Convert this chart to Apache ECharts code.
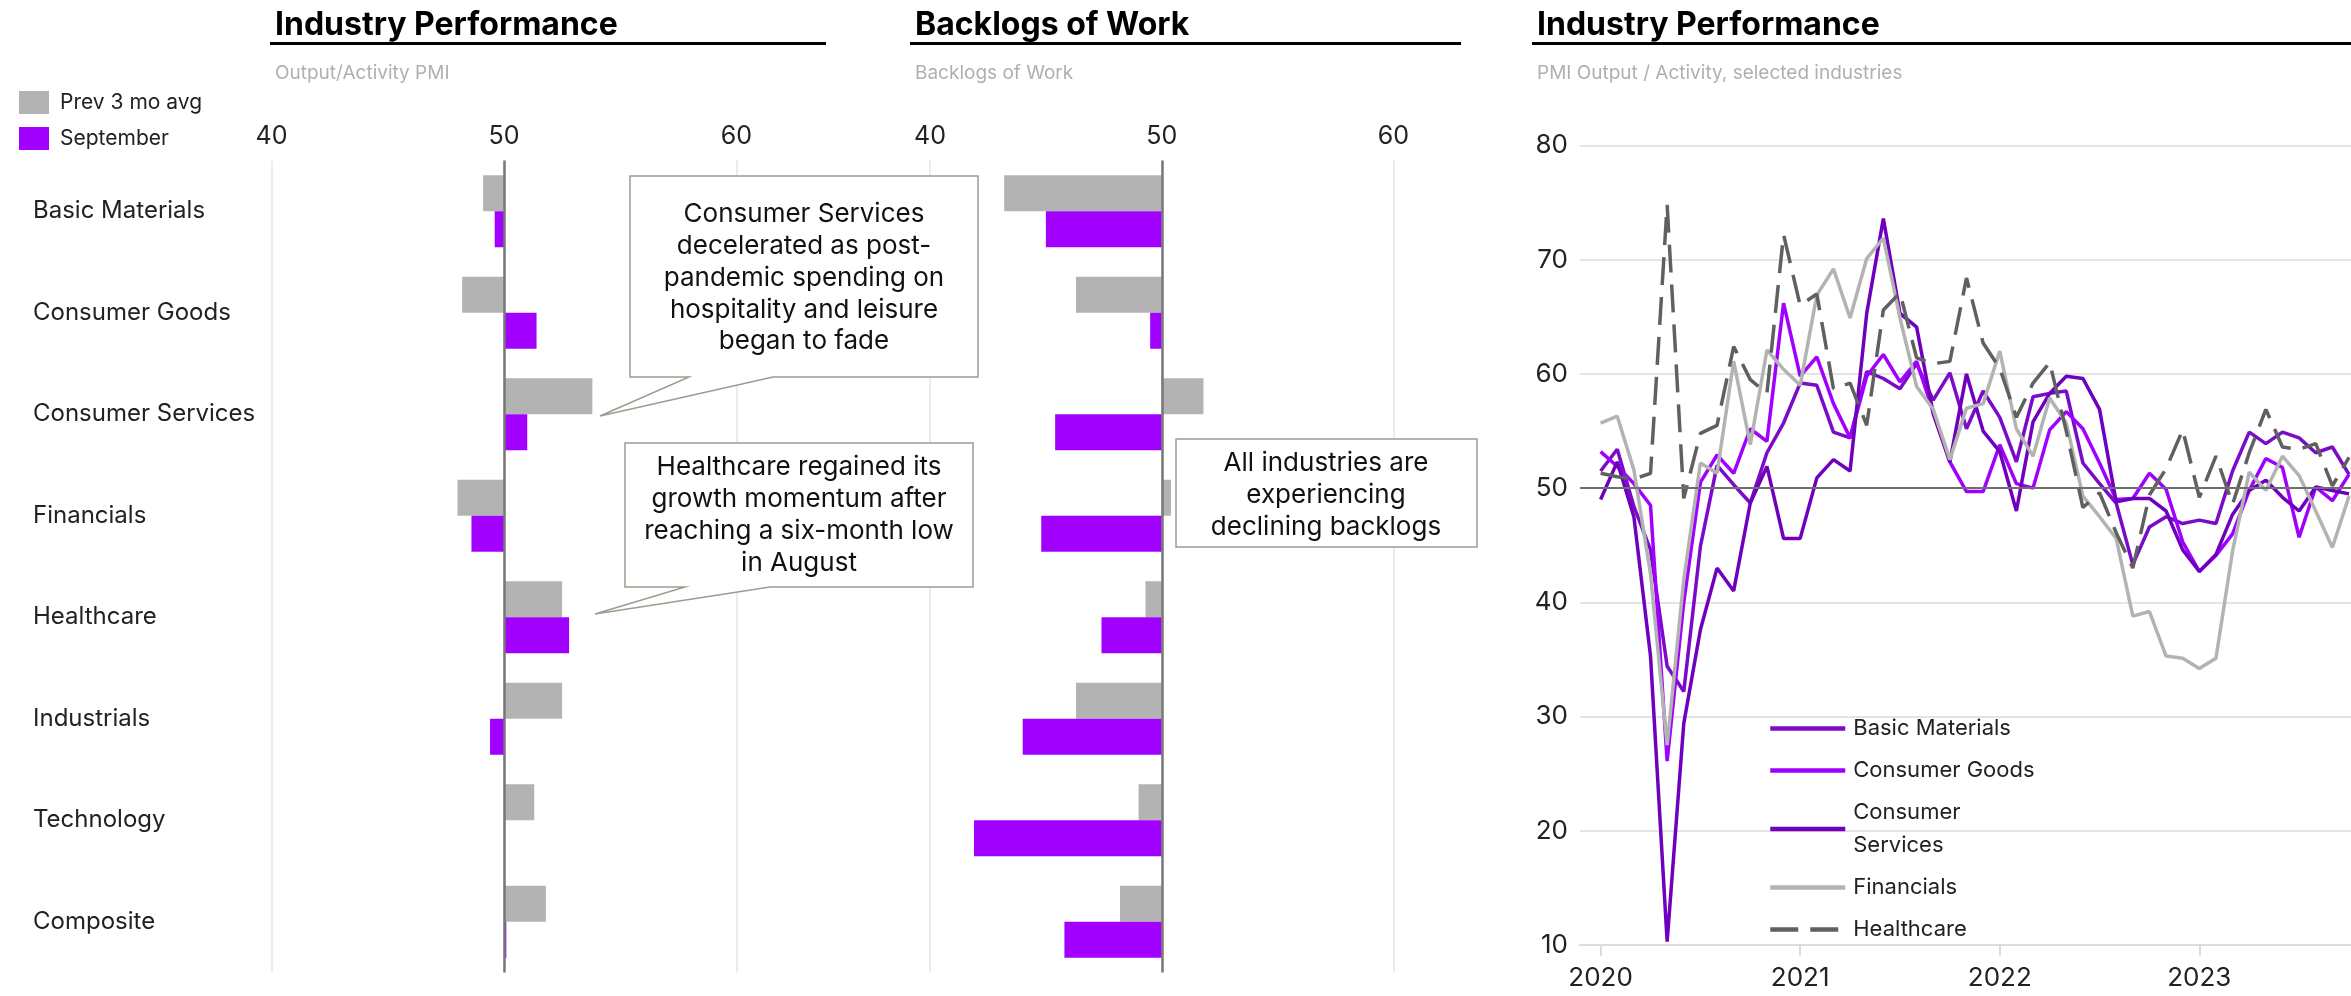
<!DOCTYPE html>
<html>
<head>
<meta charset="utf-8">
<script src="https://cdn.jsdelivr.net/npm/echarts@6/dist/echarts.min.js"></script>
<style>
  html, body { margin: 0; padding: 0; background: #fff; }
  #chart { width: 2351px; height: 996px; }
</style>
</head>
<body>
<div id="chart"></div>
<script>
// industries shown in the two bar panels (top to bottom)
var industries = ['Basic Materials', 'Consumer Goods', 'Consumer Services', 'Financials',
                  'Healthcare', 'Industrials', 'Technology', 'Composite'];

// Output / Activity PMI
var outputPrev = [49.1, 48.2, 53.8, 48.0, 52.5, 52.5, 51.3, 51.8];
var outputSep  = [49.6, 51.4, 51.0, 48.6, 52.8, 49.4, 50.0, 50.1];

// Backlogs of work
var backlogPrev = [43.2, 46.3, 51.8, 50.4, 49.3, 46.3, 49.0, 48.2];
var backlogSep  = [45.0, 49.5, 45.4, 44.8, 47.4, 44.0, 41.9, 45.8];

// monthly series for the line chart
var months = ['2020-01','2020-02','2020-03','2020-04','2020-05','2020-06','2020-07','2020-08','2020-09','2020-10','2020-11','2020-12',
              '2021-01','2021-02','2021-03','2021-04','2021-05','2021-06','2021-07','2021-08','2021-09','2021-10','2021-11','2021-12',
              '2022-01','2022-02','2022-03','2022-04','2022-05','2022-06','2022-07','2022-08','2022-09','2022-10','2022-11','2022-12',
              '2023-01','2023-02','2023-03','2023-04','2023-05','2023-06','2023-07','2023-08','2023-09','2023-10'];
var yearTicks = [0, 12, 24, 36];

var basicMaterials = [51.5, 53.4, 48.4, 44.6, 34.4, 32.2, 44.9, 52.0, 50.3, 48.7, 53.1, 55.7,
                      59.2, 59.0, 54.9, 54.4, 60.2, 59.6, 58.7, 60.9, 57.7, 60.1, 55.2, 58.5,
                      56.2, 52.3, 58.0, 58.3, 58.5, 52.2, 50.4, 48.7, 43.3, 46.6, 47.5, 46.9,
                      47.2, 46.9, 51.5, 54.9, 53.9, 54.9, 54.4, 53.1, 53.6, 51.2];
var consumerGoods = [53.2, 51.9, 50.4, 48.5, 26.1, 40.0, 50.5, 52.9, 51.3, 55.2, 54.1, 66.2,
                     59.8, 61.5, 57.4, 54.4, 59.8, 61.7, 59.3, 61.1, 56.7, 52.3, 49.7, 49.7,
                     53.8, 50.4, 50.0, 55.1, 56.7, 55.2, 52.2, 49.0, 49.1, 51.3, 49.9, 45.3,
                     42.7, 44.1, 46.0, 49.8, 52.6, 51.8, 45.7, 50.1, 48.9, 51.2];
var consumerServices = [49.0, 52.3, 47.5, 35.3, 10.3, 29.4, 37.6, 43.0, 41.0, 48.7, 51.9, 45.6,
                        45.6, 50.9, 52.5, 51.5, 65.3, 73.6, 65.3, 64.1, 56.5, 52.3, 60.0, 55.0,
                        53.2, 48.0, 55.8, 58.3, 59.8, 59.6, 56.9, 48.8, 49.1, 49.1, 48.0, 44.6,
                        42.7, 44.2, 47.7, 49.8, 50.7, 49.2, 48.0, 50.1, 49.8, 49.5];
var financials = [55.7, 56.3, 51.6, 42.5, 27.5, 42.0, 52.2, 51.3, 61.1, 53.8, 62.1, 60.4,
                  59.0, 66.9, 69.2, 64.9, 70.1, 71.9, 64.9, 58.9, 56.9, 52.5, 57.0, 57.4,
                  62.0, 55.2, 52.8, 57.9, 55.7, 49.3, 47.5, 45.6, 38.8, 39.2, 35.3, 35.1,
                  34.2, 35.1, 44.5, 51.4, 49.8, 52.8, 51.1, 48.0, 44.8, 49.3];
var healthcare = [51.3, 51.0, 50.8, 51.3, 74.8, 49.1, 54.8, 55.5, 62.4, 59.5, 58.3, 72.2,
                  66.0, 67.0, 58.7, 59.2, 55.5, 65.6, 67.1, 61.4, 60.9, 61.1, 68.4, 62.7,
                  60.5, 56.2, 59.2, 61.0, 55.0, 48.3, 49.6, 46.1, 43.0, 49.4, 51.7, 55.1,
                  49.2, 52.8, 48.6, 53.1, 56.9, 53.6, 53.4, 53.9, 50.2, 52.7];

var GRAY = '#b3b3b3';
var PURPLE = '#a100ff';
var FONT = 'Inter';

// bars grow from the 50 line, so they are drawn as the distance from 50
function fromFifty(arr) {
    return arr.map(function (v) { return +(v - 50).toFixed(2); });
}
function indexed(arr) {
    return arr.map(function (v, i) { return [i, v]; });
}

var baseLine = {
    silent: true,
    symbol: 'none',
    label: { show: false },
    lineStyle: { color: '#777', width: 2.5, type: 'solid' },
    data: [{ xAxis: 0 }]
};

function barXAxis(gridIndex) {
    return {
        type: 'value', gridIndex: gridIndex, position: 'top',
        min: -10, max: 10, interval: 10,
        axisLine: { show: false }, axisTick: { show: false },
        axisLabel: { fontSize: 25, color: '#222', margin: 12, fontFamily: FONT,
                     formatter: function (v) { return v + 50; } },
        splitLine: { lineStyle: { color: '#e6e6e6', width: 1.5 } }
    };
}

function lineSeries(name, data, color, dashed) {
    return {
        name: name, type: 'line', xAxisIndex: 2, yAxisIndex: 2,
        data: indexed(data), symbol: 'none', showSymbol: false,
        lineStyle: { color: color, width: 3.5, type: dashed ? [28, 12] : 'solid' },
        itemStyle: { color: color }
    };
}

var chart = echarts.init(document.getElementById('chart'));

var option = {
    animation: false,
    backgroundColor: '#fff',
    textStyle: { fontFamily: FONT },
    title: [
        { text: 'Industry Performance', left: 270, top: 4, textStyle: { fontSize: 32, fontWeight: 'bold', color: '#000', fontFamily: FONT } },
        { text: 'Output/Activity PMI', left: 270, top: 59, textStyle: { fontSize: 19, fontWeight: 'normal', color: '#b0b0b0', fontFamily: FONT } },
        { text: 'Backlogs of Work', left: 910, top: 4, textStyle: { fontSize: 32, fontWeight: 'bold', color: '#000', fontFamily: FONT } },
        { text: 'Backlogs of Work', left: 910, top: 59, textStyle: { fontSize: 19, fontWeight: 'normal', color: '#b0b0b0', fontFamily: FONT } },
        { text: 'Industry Performance', left: 1532, top: 4, textStyle: { fontSize: 32, fontWeight: 'bold', color: '#000', fontFamily: FONT } },
        { text: 'PMI Output / Activity, selected industries', left: 1532, top: 59, textStyle: { fontSize: 19, fontWeight: 'normal', color: '#b0b0b0', fontFamily: FONT } }
    ],
    legend: [
        {
            data: ['Prev 3 mo avg', 'September'],
            orient: 'vertical', left: 19, top: 91, padding: 0,
            icon: 'rect', itemWidth: 30, itemHeight: 23, itemGap: 13,
            selectedMode: false,
            textStyle: { fontSize: 21, color: '#222', padding: [0, 0, 0, 6], fontFamily: FONT }
        },
        {
            data: ['Basic Materials', 'Consumer Goods', 'Consumer Services', 'Financials', 'Healthcare'],
            orient: 'vertical', left: 1768, top: 712, padding: 0,
            itemWidth: 75, itemHeight: 4, itemGap: 9,
            selectedMode: false,
            itemStyle: { opacity: 0, borderWidth: 0 },
            lineStyle: { width: 4.5 },
            formatter: function (name) { return name === 'Consumer Services' ? 'Consumer\nServices' : name; },
            textStyle: { fontSize: 22, lineHeight: 33, color: '#222', padding: [0, 0, 0, 3], fontFamily: FONT }
        }
    ],
    grid: [
        { left: 271.5, top: 160.5, width: 465, height: 812 },
        { left: 930, top: 160.5, width: 463.5, height: 812 },
        { left: 1580, top: 145.5, right: 0, height: 799.5 }
    ],
    xAxis: [
        barXAxis(0),
        barXAxis(1),
        {
            type: 'value', gridIndex: 2,
            min: -1.24, max: 45.12,
            axisLine: { show: true, lineStyle: { color: '#dcdcdc', width: 2 } },
            axisTick: { show: true, customValues: yearTicks, length: 11, lineStyle: { color: '#dcdcdc', width: 2 } },
            axisLabel: { customValues: yearTicks, fontSize: 26, color: '#222', margin: 20, fontFamily: FONT,
                         formatter: function (v) { return months[v].slice(0, 4); } },
            splitLine: { show: false }
        }
    ],
    yAxis: [
        {
            type: 'category', gridIndex: 0, data: industries, inverse: true,
            axisLine: { show: false }, axisTick: { show: false },
            axisLabel: { align: 'left', margin: 238.5, fontSize: 24, color: '#222', fontFamily: FONT,
                         padding: [12, 0, 0, 0] }
        },
        {
            type: 'category', gridIndex: 1, data: industries, inverse: true,
            axisLine: { show: false }, axisTick: { show: false }, axisLabel: { show: false }
        },
        {
            type: 'value', gridIndex: 2, min: 10, max: 80, interval: 10,
            axisLine: { show: false }, axisTick: { show: false },
            axisLabel: { fontSize: 26, color: '#222', margin: 12, fontFamily: FONT },
            splitLine: { lineStyle: { color: '#e4e4e4', width: 2 } }
        }
    ],
    series: [
        { name: 'Prev 3 mo avg', type: 'bar', xAxisIndex: 0, yAxisIndex: 0, data: fromFifty(outputPrev),
          barWidth: 36, barGap: '0%', itemStyle: { color: GRAY }, markLine: baseLine },
        { name: 'September', type: 'bar', xAxisIndex: 0, yAxisIndex: 0, data: fromFifty(outputSep),
          barWidth: 36, barGap: '0%', itemStyle: { color: PURPLE } },
        { name: 'Prev 3 mo avg', type: 'bar', xAxisIndex: 1, yAxisIndex: 1, data: fromFifty(backlogPrev),
          barWidth: 36, barGap: '0%', itemStyle: { color: GRAY }, markLine: baseLine },
        { name: 'September', type: 'bar', xAxisIndex: 1, yAxisIndex: 1, data: fromFifty(backlogSep),
          barWidth: 36, barGap: '0%', itemStyle: { color: PURPLE } },

        Object.assign(lineSeries('Basic Materials', basicMaterials, '#7a0bc8', false), {
            markLine: { silent: true, symbol: 'none', label: { show: false },
                        lineStyle: { color: '#6e6e6e', width: 2, type: 'solid' }, data: [{ yAxis: 50 }] }
        }),
        lineSeries('Consumer Goods', consumerGoods, PURPLE, false),
        lineSeries('Consumer Services', consumerServices, '#6e00be', false),
        lineSeries('Financials', financials, GRAY, false),
        lineSeries('Healthcare', healthcare, '#606060', true)
    ],
    graphic: [
        // title rules
        { type: 'line', z: 50, shape: { x1: 270, y1: 43.5, x2: 826, y2: 43.5 }, style: { stroke: '#000', lineWidth: 3 } },
        { type: 'line', z: 50, shape: { x1: 910, y1: 43.5, x2: 1461, y2: 43.5 }, style: { stroke: '#000', lineWidth: 3 } },
        { type: 'line', z: 50, shape: { x1: 1532, y1: 43.5, x2: 2351, y2: 43.5 }, style: { stroke: '#000', lineWidth: 3 } },

        // callouts
        { type: 'polygon', z: 100,
          shape: { points: [[630, 176], [978, 176], [978, 377], [773, 377], [600, 416], [689, 377], [630, 377]] },
          style: { fill: '#fff', stroke: '#9c9c90', lineWidth: 1.5 } },
        { type: 'text', z: 101,
          style: { x: 804, y: 278, text: 'Consumer Services\ndecelerated as post-\npandemic spending on\nhospitality and leisure\nbegan to fade',
                   fill: '#111', fontSize: 26, fontFamily: FONT, align: 'center', verticalAlign: 'middle', lineHeight: 31.7 } },

        { type: 'polygon', z: 100,
          shape: { points: [[625, 443], [973, 443], [973, 587], [770, 587], [595, 614], [685, 587], [625, 587]] },
          style: { fill: '#fff', stroke: '#9c9c90', lineWidth: 1.5 } },
        { type: 'text', z: 101,
          style: { x: 799, y: 515, text: 'Healthcare regained its\ngrowth momentum after\nreaching a six-month low\nin August',
                   fill: '#111', fontSize: 26, fontFamily: FONT, align: 'center', verticalAlign: 'middle', lineHeight: 32 } },

        { type: 'rect', z: 100,
          shape: { x: 1176, y: 439, width: 301, height: 108 },
          style: { fill: '#fff', stroke: '#9c9c90', lineWidth: 1.5 } },
        { type: 'text', z: 101,
          style: { x: 1326, y: 495, text: 'All industries are\nexperiencing\ndeclining backlogs',
                   fill: '#111', fontSize: 26, fontFamily: FONT, align: 'center', verticalAlign: 'middle', lineHeight: 32 } }
    ]
};

chart.setOption(option);
</script>
</body>
</html>
